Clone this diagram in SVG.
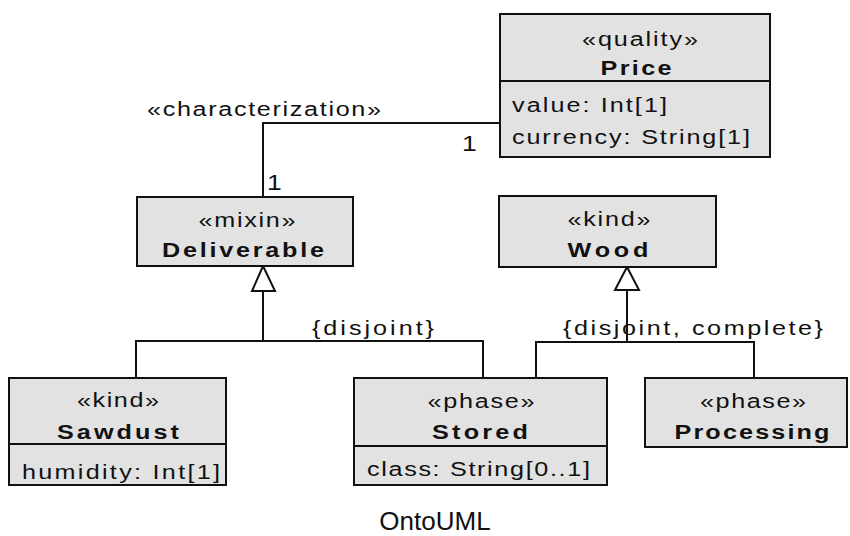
<svg xmlns="http://www.w3.org/2000/svg" width="850" height="536" viewBox="0 0 850 536">
  <style>
    .box { fill: #e2e2e2; stroke: #111; stroke-width: 2; }
    .sep { stroke: #111; stroke-width: 2; }
    .edge { fill: none; stroke: #111; stroke-width: 2; }
    .gen { fill: #fff; stroke: #111; stroke-width: 2; stroke-linejoin: miter; }
    text { font-family: "Liberation Sans", Arial, sans-serif; font-size: 21px; fill: #111; }
    .c { text-anchor: middle; }
    .b { font-weight: bold; }
    .m { font-size: 22px; }
    .cap { font-size: 26px; }
  </style>

  <!-- connectors (labels drawn slightly widened: scale(1.2 1)) -->
  <g id="connectors">
    <!-- characterization: Deliverable -> Price -->
    <path class="edge" d="M263 197 V123 H500"/>
    <text transform="translate(147 116) scale(1.2 1)" textLength="195" lengthAdjust="spacing">«characterization»</text>
    <text class="m" transform="translate(462 150.5) scale(1.2 1)">1</text>
    <text class="m" transform="translate(267 189.5) scale(1.2 1)">1</text>

    <!-- generalization set under Deliverable -->
    <path class="edge" d="M263 291 V341"/>
    <path class="edge" d="M136 378 V341 H483 V378"/>
    <polygon class="gen" points="263,266 252,291 275,291"/>
    <text transform="translate(312 335) scale(1.2 1)" textLength="101.7" lengthAdjust="spacing">{disjoint}</text>

    <!-- generalization set under Wood -->
    <path class="edge" d="M627 290 V342"/>
    <path class="edge" d="M536 378 V342 H754 V378"/>
    <polygon class="gen" points="627,267 615,290 639,290"/>
    <text transform="translate(563 335) scale(1.2 1)" textLength="216.7" lengthAdjust="spacing">{disjoint, complete}</text>
  </g>

  <!-- Price -->
  <g id="price">
    <rect class="box" x="500" y="14" width="270" height="143"/>
    <line class="sep" x1="500" y1="81" x2="770" y2="81"/>
    <text class="c" transform="translate(640 46) scale(1.2 1)" textLength="96.7" lengthAdjust="spacing">«quality»</text>
    <text class="c b" transform="translate(636 75) scale(1.2 1)" textLength="59.2" lengthAdjust="spacing">Price</text>
    <text transform="translate(512 112) scale(1.2 1)" textLength="129.2" lengthAdjust="spacing">value: Int[1]</text>
    <text transform="translate(512 144) scale(1.2 1)" textLength="198.3" lengthAdjust="spacing">currency: String[1]</text>
  </g>

  <!-- Deliverable -->
  <g id="deliverable">
    <rect class="box" x="137" y="197" width="216" height="69"/>
    <text class="c" transform="translate(247 227) scale(1.2 1)" textLength="80.8" lengthAdjust="spacing">«mixin»</text>
    <text class="c b" transform="translate(243 257) scale(1.2 1)" textLength="135" lengthAdjust="spacing">Deliverable</text>
  </g>

  <!-- Wood -->
  <g id="wood">
    <rect class="box" x="499" y="196" width="217" height="71"/>
    <text class="c" transform="translate(609 226) scale(1.2 1)" textLength="69.2" lengthAdjust="spacing">«kind»</text>
    <text class="c b" transform="translate(608 257) scale(1.2 1)" textLength="67.5" lengthAdjust="spacing">Wood</text>
  </g>

  <!-- Sawdust -->
  <g id="sawdust">
    <rect class="box" x="9" y="378" width="217" height="107"/>
    <line class="sep" x1="9" y1="444" x2="226" y2="444"/>
    <text class="c" transform="translate(118 407) scale(1.2 1)" textLength="68.3" lengthAdjust="spacing">«kind»</text>
    <text class="c b" transform="translate(118 439) scale(1.2 1)" textLength="101.7" lengthAdjust="spacing">Sawdust</text>
    <text transform="translate(22 479) scale(1.2 1)" textLength="165" lengthAdjust="spacing">humidity: Int[1]</text>
  </g>

  <!-- Stored -->
  <g id="stored">
    <rect class="box" x="354" y="378" width="253" height="107"/>
    <line class="sep" x1="354" y1="446" x2="607" y2="446"/>
    <text class="c" transform="translate(481 408) scale(1.2 1)" textLength="89.2" lengthAdjust="spacing">«phase»</text>
    <text class="c b" transform="translate(480 439) scale(1.2 1)" textLength="80" lengthAdjust="spacing">Stored</text>
    <text transform="translate(367 476) scale(1.2 1)" textLength="185.8" lengthAdjust="spacing">class: String[0..1]</text>
  </g>

  <!-- Processing -->
  <g id="processing">
    <rect class="box" x="645" y="378" width="202" height="69"/>
    <text class="c" transform="translate(753 408) scale(1.2 1)" textLength="88.3" lengthAdjust="spacing">«phase»</text>
    <text class="c b" transform="translate(752 439) scale(1.2 1)" textLength="129.2" lengthAdjust="spacing">Processing</text>
  </g>

  <!-- caption -->
  <text class="c cap" x="435" y="530">OntoUML</text>
</svg>
